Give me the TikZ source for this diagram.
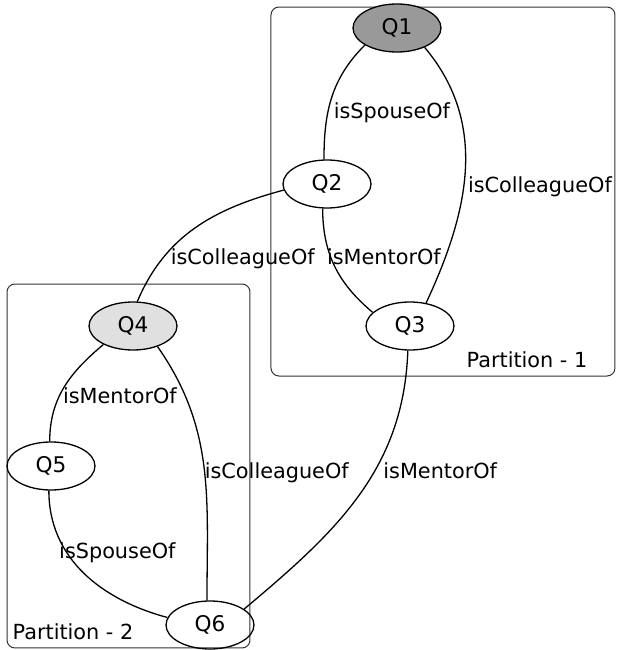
\documentclass[tikz,border=0pt]{standalone}
\usepackage{fontspec}
\setmainfont{DejaVu Sans}
\usetikzlibrary{arrows,shapes.geometric}

\begin{document}
\begin{tikzpicture}[x=0.5pt,y=0.5pt,line width=0.65pt,
                    font=\fontsize{10.4}{12}\selectfont]
  \tikzstyle{query}=[ellipse,draw,minimum width=44pt,minimum height=24pt,
    inner sep=0pt,font=\fontsize{10.8}{12}\selectfont]
  \tikzstyle{partition}=[draw=black!80,line width=0.5pt,rounded corners=4pt]
  \tikzstyle{rel}=[anchor=west,inner sep=1pt]
  \useasboundingbox (0,0) rectangle (618,650);
  \draw[partition] (271,274) rectangle (615,643);
  \draw[partition] (7,2) rectangle (250,366);
  \node[query,fill=black!40] (Q1) at (397,622) {Q1};
  \node[query]               (Q2) at (327,466) {Q2};
  \node[query]               (Q3) at (410,324) {Q3};
  \node[query,fill=black!12] (Q4) at (133,324) {Q4};
  \node[query]               (Q5) at (51,184)  {Q5};
  \node[query]               (Q6) at (210,25)  {Q6};
  \node (P1) at (527,290) {Partition - 1};
  \node (P2) at (73,18)   {Partition - 2};
  \draw
  (Q1.208) edge[out=225,in=90] node[rel,pos=0.55,xshift=0.5pt,yshift=-5pt] {isSpouseOf} (Q2.97)
  (Q1.-35) edge[out=-50,in=65] node[rel,pos=0.5,yshift=-8.5pt] {isColleagueOf} (Q3.55)
  (Q2.260) edge[out=-90,in=140] node[rel,pos=0.45,xshift=-4pt,yshift=2.5pt] {isMentorOf} (Q3.160)
  (Q2.188) edge[out=195,in=67] node[rel,pos=0.7,yshift=-3.5pt] {isColleagueOf} (Q4.80)
  (Q4.212) edge[out=220,in=90] node[rel,pos=0.55,xshift=-0.5pt,yshift=-2pt] {isMentorOf} (Q5.93)
  (Q4.-40) edge[out=-55,in=90] node[rel,pos=0.45,yshift=-9pt] {isColleagueOf} (Q6.97)
  (Q3.265) edge[out=-92,in=40] node[rel,pos=0.4,xshift=3pt] {isMentorOf} (Q6.25)
  (Q5.265) edge[out=-90,in=165] node[rel,pos=0.35,xshift=-5pt] {isSpouseOf} (Q6.170);
\end{tikzpicture}
\end{document}
